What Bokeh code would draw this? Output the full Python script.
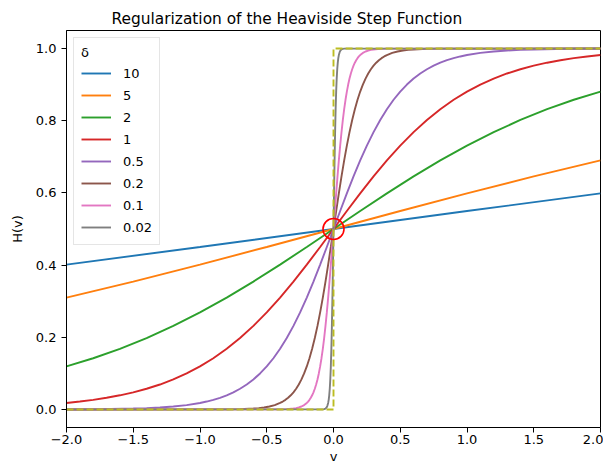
from bokeh.plotting import figure
from bokeh.models import Range1d, FixedTicker, Legend, LegendItem
from bokeh.embed import file_html
from bokeh.resources import INLINE

# ---- data ----
deltas = ["10", "5", "2", "1", "0.5", "0.2", "0.1", "0.02"]
colors = ["#1f77b4", "#ff7f0e", "#2ca02c", "#d62728", "#9467bd", "#8c564b", "#e377c2", "#7f7f7f"]

x_d10 = [-2.0, -1.0, 0.0, 1.0, 2.0]
y_d10 = [0.4013, 0.4502, 0.5, 0.5498, 0.5987]

x_d5 = [-2.0, -1.5, -1.0, -0.5, 0.0, 0.5, 1.0, 1.5, 2.0]
y_d5 = [0.3100, 0.3543, 0.4013, 0.4502, 0.5, 0.5498, 0.5987, 0.6457, 0.6900]

x_d2 = [-2.0, -1.8, -1.6, -1.4, -1.2, -1.0, -0.8, -0.6, -0.4, -0.2, 0.0,
        0.2, 0.4, 0.6, 0.8, 1.0, 1.2, 1.4, 1.6, 1.8, 2.0]
y_d2 = [0.1192, 0.1419, 0.1680, 0.1978, 0.2315, 0.2689, 0.3100, 0.3543, 0.4013, 0.4502, 0.5,
        0.5498, 0.5987, 0.6457, 0.6900, 0.7311, 0.7685, 0.8022, 0.8320, 0.8581, 0.8808]

x_d1 = [-2.0, -1.9, -1.8, -1.7, -1.6, -1.5, -1.4, -1.3, -1.2, -1.1, -1.0, -0.9, -0.8, -0.7, -0.6, -0.5,
        -0.4, -0.3, -0.2, -0.1, 0.0, 0.1, 0.2, 0.3, 0.4, 0.5, 0.6, 0.7, 0.8, 0.9, 1.0, 1.1, 1.2, 1.3,
        1.4, 1.5, 1.6, 1.7, 1.8, 1.9, 2.0]
y_d1 = [0.0180, 0.0219, 0.0266, 0.0323, 0.0392, 0.0474, 0.0573, 0.0691, 0.0832, 0.0998, 0.1192,
        0.1419, 0.1680, 0.1978, 0.2315, 0.2689, 0.3100, 0.3543, 0.4013, 0.4502, 0.5,
        0.5498, 0.5987, 0.6457, 0.6900, 0.7311, 0.7685, 0.8022, 0.8320, 0.8581, 0.8808,
        0.9002, 0.9168, 0.9309, 0.9427, 0.9526, 0.9608, 0.9677, 0.9734, 0.9781, 0.9820]

x_d05 = [-2.0, -1.75, -1.5, -1.4, -1.3, -1.2, -1.1, -1.0, -0.95, -0.9, -0.85, -0.8, -0.75, -0.7,
         -0.65, -0.6, -0.55, -0.5, -0.45, -0.4, -0.35, -0.3, -0.25, -0.2, -0.15, -0.1, -0.05, 0.0,
         0.05, 0.1, 0.15, 0.2, 0.25, 0.3, 0.35, 0.4, 0.45, 0.5, 0.55, 0.6, 0.65, 0.7, 0.75, 0.8,
         0.85, 0.9, 0.95, 1.0, 1.1, 1.2, 1.3, 1.4, 1.5, 1.75, 2.0]
y_d05 = [0.0003, 0.0009, 0.0025, 0.0037, 0.0055, 0.0082, 0.0121, 0.0180, 0.0219, 0.0266, 0.0323,
         0.0392, 0.0474, 0.0573, 0.0691, 0.0832, 0.0998, 0.1192, 0.1419, 0.1680, 0.1978, 0.2315,
         0.2689, 0.3100, 0.3543, 0.4013, 0.4502, 0.5,
         0.5498, 0.5987, 0.6457, 0.6900, 0.7311, 0.7685, 0.8022, 0.8320, 0.8581, 0.8808, 0.9002,
         0.9168, 0.9309, 0.9427, 0.9526, 0.9608, 0.9677, 0.9734, 0.9781, 0.9820, 0.9879, 0.9918,
         0.9945, 0.9963, 0.9975, 0.9991, 0.9997]

x_d02 = [-2.0, -0.8, -0.7, -0.6, -0.56, -0.52, -0.48, -0.44, -0.4, -0.38, -0.36, -0.34, -0.32, -0.3,
         -0.28, -0.26, -0.24, -0.22, -0.2, -0.18, -0.16, -0.14, -0.12, -0.1, -0.08, -0.06, -0.04,
         -0.02, 0.0, 0.02, 0.04, 0.06, 0.08, 0.1, 0.12, 0.14, 0.16, 0.18, 0.2, 0.22, 0.24, 0.26,
         0.28, 0.3, 0.32, 0.34, 0.36, 0.38, 0.4, 0.44, 0.48, 0.52, 0.56, 0.6, 0.7, 0.8, 2.0]
y_d02 = [0.0, 0.0003, 0.0009, 0.0025, 0.0037, 0.0055, 0.0082, 0.0121, 0.0180, 0.0219, 0.0266, 0.0323,
         0.0392, 0.0474, 0.0573, 0.0691, 0.0832, 0.0998, 0.1192, 0.1419, 0.1680, 0.1978, 0.2315,
         0.2689, 0.3100, 0.3543, 0.4013, 0.4502, 0.5,
         0.5498, 0.5987, 0.6457, 0.6900, 0.7311, 0.7685, 0.8022, 0.8320, 0.8581, 0.8808, 0.9002,
         0.9168, 0.9309, 0.9427, 0.9526, 0.9608, 0.9677, 0.9734, 0.9781, 0.9820, 0.9879, 0.9918,
         0.9945, 0.9963, 0.9975, 0.9991, 0.9997, 1.0]

x_d01 = [-2.0, -0.4, -0.35, -0.3, -0.28, -0.26, -0.24, -0.22, -0.2, -0.19, -0.18, -0.17, -0.16, -0.15,
         -0.14, -0.13, -0.12, -0.11, -0.1, -0.09, -0.08, -0.07, -0.06, -0.05, -0.04, -0.03, -0.02,
         -0.01, 0.0, 0.01, 0.02, 0.03, 0.04, 0.05, 0.06, 0.07, 0.08, 0.09, 0.1, 0.11, 0.12, 0.13,
         0.14, 0.15, 0.16, 0.17, 0.18, 0.19, 0.2, 0.22, 0.24, 0.26, 0.28, 0.3, 0.35, 0.4, 2.0]
y_d01 = [0.0, 0.0003, 0.0009, 0.0025, 0.0037, 0.0055, 0.0082, 0.0121, 0.0180, 0.0219, 0.0266, 0.0323,
         0.0392, 0.0474, 0.0573, 0.0691, 0.0832, 0.0998, 0.1192, 0.1419, 0.1680, 0.1978, 0.2315,
         0.2689, 0.3100, 0.3543, 0.4013, 0.4502, 0.5,
         0.5498, 0.5987, 0.6457, 0.6900, 0.7311, 0.7685, 0.8022, 0.8320, 0.8581, 0.8808, 0.9002,
         0.9168, 0.9309, 0.9427, 0.9526, 0.9608, 0.9677, 0.9734, 0.9781, 0.9820, 0.9879, 0.9918,
         0.9945, 0.9963, 0.9975, 0.9991, 0.9997, 1.0]

x_d002 = [-2.0, -0.08, -0.07, -0.06, -0.052, -0.046, -0.04, -0.036, -0.032, -0.028, -0.024, -0.02,
          -0.016, -0.012, -0.008, -0.004, 0.0, 0.004, 0.008, 0.012, 0.016, 0.02, 0.024, 0.028,
          0.032, 0.036, 0.04, 0.046, 0.052, 0.06, 0.07, 0.08, 2.0]
y_d002 = [0.0, 0.0003, 0.0009, 0.0025, 0.0055, 0.0100, 0.0180, 0.0266, 0.0392, 0.0573, 0.0832,
          0.1192, 0.1680, 0.2315, 0.3100, 0.4013, 0.5, 0.5987, 0.6900, 0.7685, 0.8320, 0.8808,
          0.9168, 0.9427, 0.9608, 0.9734, 0.9820, 0.9900, 0.9945, 0.9975, 0.9991, 0.9997, 1.0]

x_step = [-2.0, 0.0, 0.0, 2.0]
y_step = [0.0, 0.0, 1.0, 1.0]

center_x = [0.0]
center_y = [0.5]

x_ticks = [-2.0, -1.5, -1.0, -0.5, 0.0, 0.5, 1.0, 1.5, 2.0]
x_tick_labels = ["\u22122.0", "\u22121.5", "\u22121.0", "\u22120.5", "0.0", "0.5", "1.0", "1.5", "2.0"]
y_ticks = [0.0, 0.2, 0.4, 0.6, 0.8, 1.0]
y_tick_labels = ["0.0", "0.2", "0.4", "0.6", "0.8", "1.0"]

series_x = [x_d10, x_d5, x_d2, x_d1, x_d05, x_d02, x_d01, x_d002]
series_y = [y_d10, y_d5, y_d2, y_d1, y_d05, y_d02, y_d01, y_d002]

FONT = "DejaVu Sans"

p = figure(width=603, height=466, output_backend="svg", toolbar_location=None,
           x_range=Range1d(-2.0, 2.0), y_range=Range1d(-0.05, 1.05),
           title="Regularization of the Heaviside Step Function")
p.min_border_left = 66
p.min_border_right = 3
p.min_border_top = 30
p.min_border_bottom = 38

p.title.text_font = FONT
p.title.text_font_size = "15.4px"
p.title.text_font_style = "normal"
p.title.text_color = "black"
p.title.align = "left"
p.title.offset = 45
p.title.standoff = 6

p.xgrid.visible = False
p.ygrid.visible = False
p.outline_line_color = "black"
p.outline_line_width = 1
p.outline_line_alpha = 1.0

for ax in (p.xaxis[0], p.yaxis[0]):
    ax.major_label_text_font = FONT
    ax.major_label_text_font_size = "13px"
    ax.axis_label_text_font = FONT
    ax.axis_label_text_font_size = "13px"
    ax.axis_label_text_font_style = "normal"
    ax.minor_tick_line_color = None
    ax.major_tick_in = 0
    ax.major_tick_out = 5
    ax.axis_line_color = "black"
    ax.major_tick_line_color = "black"
    ax.major_label_text_color = "black"
    ax.axis_label_text_color = "black"

p.xaxis.ticker = FixedTicker(ticks=x_ticks)
p.xaxis.major_label_overrides = {t: l for t, l in zip(x_ticks, x_tick_labels)}
p.yaxis.ticker = FixedTicker(ticks=y_ticks)
p.yaxis.major_label_overrides = {t: l for t, l in zip(y_ticks, y_tick_labels)}
p.xaxis.axis_label = "v"
p.yaxis.axis_label = "H(v)"
p.xaxis.major_label_standoff = 2
p.xaxis.axis_label_standoff = 2
p.yaxis.major_label_standoff = 5
p.yaxis.axis_label_standoff = 8

items = []
for name, c, xs, ys in zip(deltas, colors, series_x, series_y):
    r = p.line(xs, ys, line_color=c, line_width=1.9)
    items.append(LegendItem(label=name, renderers=[r]))

p.line(x_step, y_step, line_color="#bcbd22", line_width=1.9, line_dash="7 3")
p.scatter(center_x, center_y, marker="circle", size=21, fill_alpha=0,
          line_color="red", line_width=1.6)

legend = Legend(items=items, location="top_left", title="\u03b4")
legend.margin = 7
legend.padding = 7
legend.spacing = 2
legend.glyph_width = 30
legend.glyph_height = 20
legend.label_height = 20
legend.label_standoff = 12
legend.label_text_font = FONT
legend.label_text_font_size = "13px"
legend.label_text_color = "black"
legend.title_text_font = FONT
legend.title_text_font_size = "13px"
legend.title_text_font_style = "normal"
legend.title_text_color = "black"
legend.title_standoff = 3
legend.border_line_color = "#cccccc"
legend.border_line_width = 1
legend.background_fill_alpha = 0.8
p.add_layout(legend)

open("out.html", "w").write(file_html(p, INLINE))
